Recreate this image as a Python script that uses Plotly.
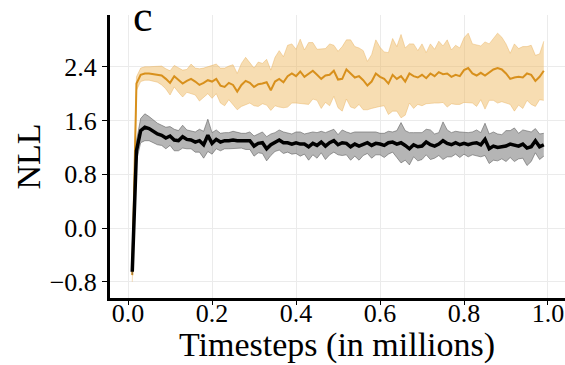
import plotly.graph_objects as go

timesteps = [round(0.01 * i, 2) for i in range(1, 100)]

orange_mean = [-0.70, 2.15, 2.28, 2.30, 2.30, 2.29, 2.29, 2.27, 2.22, 2.16,
               2.26, 2.20, 2.15, 2.19, 2.22, 2.18, 2.13, 2.16, 2.20, 2.18,
               2.22, 2.12, 2.10, 2.16, 2.13, 2.03, 2.13, 2.19, 2.16, 2.10,
               2.14, 2.15, 2.17, 2.05, 2.18, 2.22, 2.17, 2.26, 2.30, 2.26,
               2.33, 2.25, 2.30, 2.34, 2.28, 2.22, 2.27, 2.28, 2.34, 2.21,
               2.22, 2.36, 2.30, 2.24, 2.26, 2.20, 2.12, 2.18, 2.30, 2.25,
               2.22, 2.15, 2.28, 2.22, 2.26, 2.18, 2.30, 2.26, 2.24, 2.28,
               2.23, 2.30, 2.26, 2.32, 2.29, 2.30, 2.25, 2.28, 2.26, 2.35,
               2.38, 2.30, 2.27, 2.31, 2.27, 2.32, 2.36, 2.38, 2.36, 2.30,
               2.22, 2.24, 2.25, 2.24, 2.30, 2.28, 2.19, 2.25, 2.34]

orange_sd = [0.10, 0.10, 0.10, 0.10, 0.10, 0.11, 0.12, 0.14, 0.15, 0.18,
             0.16, 0.18, 0.20, 0.17, 0.22, 0.20, 0.24, 0.22, 0.20, 0.25,
             0.22, 0.26, 0.28, 0.25, 0.30, 0.27, 0.32, 0.35, 0.30, 0.28,
             0.33, 0.30, 0.34, 0.30, 0.36, 0.42, 0.38, 0.46, 0.44, 0.40,
             0.48, 0.40, 0.46, 0.42, 0.38, 0.44, 0.40, 0.46, 0.38, 0.42,
             0.48, 0.44, 0.50, 0.46, 0.42, 0.44, 0.36, 0.40, 0.50, 0.44,
             0.40, 0.46, 0.54, 0.48, 0.62, 0.50, 0.44, 0.48, 0.40, 0.46,
             0.38, 0.44, 0.40, 0.46, 0.42, 0.50, 0.40, 0.44, 0.42, 0.48,
             0.52, 0.44, 0.46, 0.40, 0.50, 0.42, 0.46, 0.52, 0.48, 0.44,
             0.38, 0.50, 0.42, 0.46, 0.40, 0.44, 0.38, 0.34, 0.44]

black_mean = [-0.65, 1.15, 1.45, 1.50, 1.48, 1.44, 1.40, 1.38, 1.34, 1.37,
              1.31, 1.30, 1.36, 1.32, 1.31, 1.28, 1.30, 1.24, 1.38, 1.26,
              1.32, 1.28, 1.30, 1.30, 1.31, 1.30, 1.30, 1.29, 1.30, 1.22,
              1.26, 1.27, 1.18, 1.24, 1.28, 1.31, 1.27, 1.27, 1.25, 1.27,
              1.25, 1.25, 1.21, 1.26, 1.23, 1.28, 1.22, 1.27, 1.30, 1.24,
              1.27, 1.26, 1.21, 1.25, 1.22, 1.25, 1.27, 1.23, 1.26, 1.25,
              1.23, 1.27, 1.28, 1.25, 1.27, 1.23, 1.18, 1.24, 1.21, 1.22,
              1.28, 1.24, 1.22, 1.25, 1.30, 1.26, 1.24, 1.27, 1.24, 1.26,
              1.24, 1.26, 1.27, 1.24, 1.32, 1.18, 1.22, 1.20, 1.21, 1.22,
              1.25, 1.24, 1.22, 1.25, 1.19, 1.21, 1.30, 1.21, 1.24]

black_sd = [0.04, 0.15, 0.18, 0.20, 0.18, 0.17, 0.16, 0.15, 0.16, 0.14,
            0.16, 0.15, 0.17, 0.14, 0.13, 0.15, 0.17, 0.20, 0.24, 0.16,
            0.14, 0.13, 0.12, 0.12, 0.13, 0.12, 0.11, 0.12, 0.13, 0.15,
            0.14, 0.16, 0.18, 0.16, 0.14, 0.15, 0.16, 0.14, 0.15, 0.16,
            0.18, 0.15, 0.20, 0.17, 0.19, 0.16, 0.20, 0.18, 0.17, 0.15,
            0.19, 0.17, 0.20, 0.18, 0.21, 0.17, 0.16, 0.19, 0.17, 0.16,
            0.18, 0.17, 0.15, 0.20, 0.30, 0.22, 0.24, 0.18, 0.21, 0.20,
            0.19, 0.22, 0.18, 0.17, 0.28, 0.20, 0.18, 0.17, 0.19, 0.16,
            0.18, 0.17, 0.19, 0.18, 0.24, 0.22, 0.21, 0.20, 0.18, 0.23,
            0.20, 0.25, 0.19, 0.21, 0.26, 0.22, 0.18, 0.19, 0.17]

x_ticks = [0.0, 0.2, 0.4, 0.6, 0.8, 1.0]
x_ticklabels = ["0.0", "0.2", "0.4", "0.6", "0.8", "1.0"]
y_ticks = [-0.8, 0.0, 0.8, 1.6, 2.4]
y_ticklabels = ["\u22120.8", "0.0", "0.8", "1.6", "2.4"]

FONT = "Liberation Serif"

fig = go.Figure()


def add_band(mean, sd, fillcolor, edgecolor, linecolor, linewidth):
    upper = [m + s for m, s in zip(mean, sd)]
    lower = [m - s for m, s in zip(mean, sd)]
    fig.add_trace(go.Scatter(x=timesteps, y=upper, mode="lines",
                             line=dict(color=edgecolor, width=0.8),
                             showlegend=False, hoverinfo="skip"))
    fig.add_trace(go.Scatter(x=timesteps, y=lower, mode="lines",
                             line=dict(color=edgecolor, width=0.8),
                             fill="tonexty", fillcolor=fillcolor,
                             showlegend=False, hoverinfo="skip"))
    fig.add_trace(go.Scatter(x=timesteps, y=mean, mode="lines",
                             line=dict(color=linecolor, width=linewidth),
                             showlegend=False))


add_band(orange_mean, orange_sd, "rgba(238,180,85,0.45)",
         "rgba(230,170,80,0.5)", "#D8901C", 2)
add_band(black_mean, black_sd, "rgba(90,90,90,0.45)",
         "rgba(90,90,90,0.7)", "#000000", 3.5)

fig.update_layout(
    width=565, height=365,
    margin=dict(l=110, r=0, t=15, b=67, autoexpand=False),
    paper_bgcolor="white", plot_bgcolor="white",
    font=dict(family=FONT, color="black"),
    showlegend=False,
)

fig.update_xaxes(
    range=[-0.043, 1.0405], tickvals=x_ticks, ticktext=x_ticklabels,
    tickfont=dict(size=26, family=FONT),
    showgrid=True, gridcolor="#ebebeb", gridwidth=1,
    showline=True, linecolor="black", linewidth=3,
    ticks="outside", ticklen=4, tickcolor="black", tickwidth=1,
    ticklabelstandoff=-14, ticklabeloverflow="allow",
    zeroline=False,
)
fig.update_yaxes(
    range=[-1.04, 3.17], tickvals=y_ticks, ticktext=y_ticklabels,
    tickfont=dict(size=26, family=FONT),
    showgrid=True, gridcolor="#ebebeb", gridwidth=1,
    showline=True, linecolor="black", linewidth=3,
    ticks="outside", ticklen=5, tickcolor="black", tickwidth=1,
    ticklabeloverflow="allow",
    zeroline=False,
)

# axis titles and panel letter
fig.add_annotation(
    text="Timesteps (in millions)", xref="paper", yref="paper",
    x=(337 - 110) / 455, y=(298 - 366) / 284,
    xanchor="center", yanchor="bottom", showarrow=False,
    font=dict(size=34, family=FONT, color="black"),
)
fig.add_annotation(
    text="NLL", xref="paper", yref="paper",
    x=(28 - 110) / 455, y=0.5, textangle=-90,
    xanchor="center", yanchor="middle", showarrow=False,
    font=dict(size=34, family=FONT, color="black"),
)
fig.add_annotation(
    text="c", xref="paper", yref="paper", x=(131 - 110) / 455, y=1.087,
    xanchor="left", yanchor="top", showarrow=False,
    font=dict(size=44, family=FONT, color="black"),
)

fig.write_html(
    "out.html",
    config={"displayModeBar": False},
    post_script="document.body.style.margin='0';"
                "document.body.style.overflow='hidden';"
                "document.documentElement.style.overflow='hidden';",
)
